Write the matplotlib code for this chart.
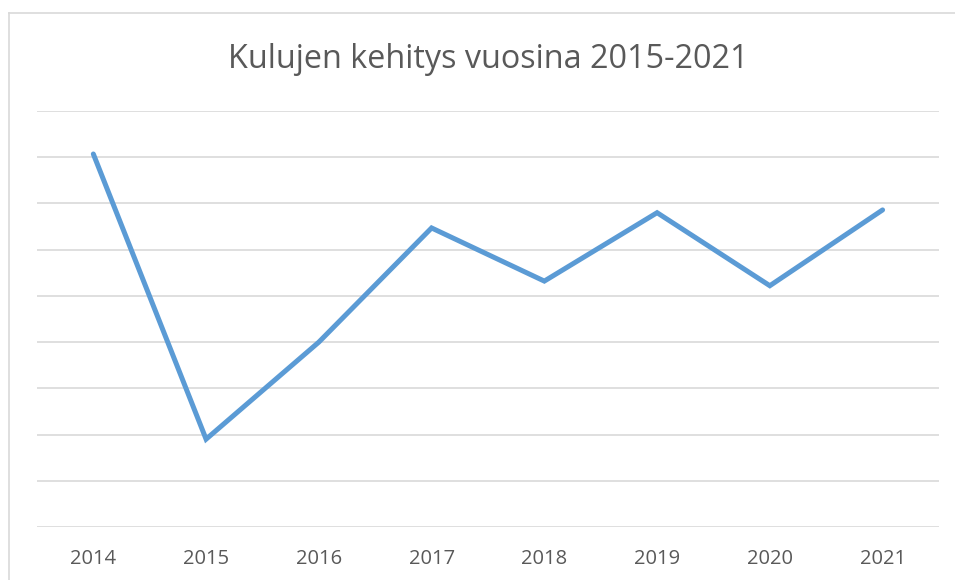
import matplotlib.pyplot as plt
from matplotlib.lines import Line2D

plt.rcParams['font.family'] = ['Open Sans', 'DejaVu Sans']

years = ['2014', '2015', '2016', '2017', '2018', '2019', '2020', '2021']
costs = [8.07, 1.90, 4.00, 6.47, 5.32, 6.80, 5.22, 6.86]

fig = plt.figure(figsize=(9.55, 5.8), dpi=100)
ax = fig.add_axes([0.0387, 0.0914, 0.9445, 0.7172])

x = range(len(years))
ax.plot(x, costs, color='#5B9BD5', linewidth=3.6, solid_capstyle='round',
        solid_joinstyle='miter', zorder=3)

ax.set_xlim(-0.5, len(years) - 0.5)
ax.set_ylim(0, 9)
ax.set_yticks(range(0, 10))
ax.set_yticklabels([])
ax.set_xticks(list(x))
ax.set_xticklabels(years, fontsize=14.5, color='#595959')
ax.tick_params(axis='x', length=0, pad=16)
ax.tick_params(axis='y', length=0)
ax.grid(axis='y', color='#D9D9D9', linewidth=1.2)
for s in ax.spines.values():
    s.set_visible(False)

fig.text(488 / 955, 1 - 60 / 580, 'Kulujen kehitys vuosina 2015-2021', ha='center',
         va='center', fontsize=23.3, color='#595959')

# chart area border (left and top only visible in the crop)
fig.add_artist(Line2D([8.5 / 955, 8.5 / 955], [0, 1 - 13 / 580], color='#D9D9D9',
                      linewidth=1.2, transform=fig.transFigure))
fig.add_artist(Line2D([8.5 / 955, 1], [1 - 13 / 580, 1 - 13 / 580], color='#D9D9D9',
                      linewidth=1.2, transform=fig.transFigure))

fig.savefig('out.png', dpi=100)
